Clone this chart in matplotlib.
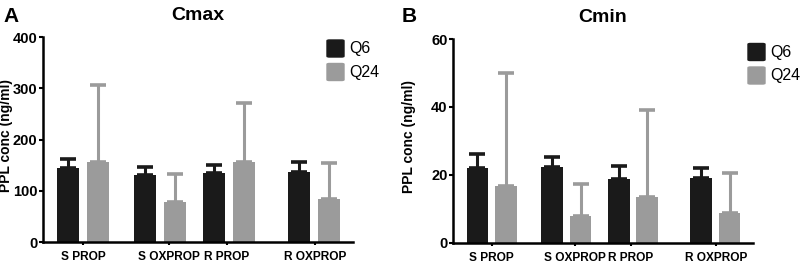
import matplotlib.pyplot as plt
from matplotlib.patches import FancyBboxPatch
import numpy as np

plt.rcParams["font.family"] = ["Liberation Sans", "DejaVu Sans"]

categories = ["S PROP", "S OXPROP", "R PROP", "R OXPROP"]
series = ["Q6", "Q24"]

cmax_q6 = [144, 131, 134, 137]
cmax_q6_err = [18, 15, 16, 19]
cmax_q24 = [156, 78, 156, 84]
cmax_q24_err = [150, 54, 116, 70]

cmin_q6 = [21.9, 22.4, 18.8, 19.1]
cmin_q6_err = [4.2, 2.9, 3.9, 2.8]
cmin_q24 = [16.7, 7.9, 13.4, 8.8]
cmin_q24_err = [33.3, 9.3, 25.7, 11.8]

BLACK = "#1a1a1a"
GRAY = "#9b9b9b"
W, H = 800.0, 264.0

# GraphPad-style uneven group spacing, in axis units (axis spans 0..310)
group_x = np.array([40.0, 117.0, 186.0, 271.0])
label_x = np.array([40.0, 126.0, 184.0, 272.0])
offset = 14.8
bar_w = 22.5


def draw_panel(ax, q6, q6_err, q24, q24_err, ymax, step, title, letter_px, legend_px, ylab_x):
    ax.bar(group_x - offset, q6, bar_w, color=BLACK, zorder=2)
    ax.bar(group_x + offset, q24, bar_w, color=GRAY, zorder=2)
    ax.errorbar(group_x - offset, q6, yerr=[np.zeros(4), q6_err], fmt="none",
                ecolor=BLACK, elinewidth=2.2, capsize=5.5, capthick=2.6, zorder=1)
    ax.errorbar(group_x + offset, q24, yerr=[np.zeros(4), q24_err], fmt="none",
                ecolor=GRAY, elinewidth=2.2, capsize=5.5, capthick=2.6, zorder=1)

    ax.set_xlim(0, 310)
    ax.set_ylim(0, ymax)
    ax.set_yticks(np.arange(0, ymax + 1, step))
    ax.set_xticks(label_x)
    ax.set_xticklabels(categories, fontsize=8.6, fontweight="bold")
    for lbl in ax.get_yticklabels():
        lbl.set_fontweight("bold")
    ax.tick_params(axis="y", labelsize=10.5, width=1.5, length=3, pad=1)
    ax.tick_params(axis="x", width=1.5, length=2.5, pad=4)
    for side in ("top", "right"):
        ax.spines[side].set_visible(False)
    for side in ("left", "bottom"):
        ax.spines[side].set_linewidth(1.8)
    ax.set_ylabel("PPL conc (ng/ml)", fontsize=10, fontweight="bold")
    ax.yaxis.set_label_coords(ylab_x, 0.52)
    ax.set_title(title, fontsize=14, fontweight="bold", pad=12)

    fig.text(letter_px[0] / W, 1 - letter_px[1] / H, letter_px[2],
             fontsize=15, fontweight="bold", va="top", ha="left")

    # legend with rounded squares
    lx, ly = legend_px
    for i, (name, col) in enumerate(zip(series, [BLACK, GRAY])):
        top = ly + i * 23.5
        box = FancyBboxPatch((lx / W, 1 - (top + 17) / H), 17 / W, 17 / H,
                             boxstyle="round,pad=0,rounding_size=0.003",
                             transform=fig.transFigure, color=col, clip_on=False)
        fig.add_artist(box)
        fig.text((lx + 22) / W, 1 - (top + 8.5) / H, name, fontsize=11.5,
                 va="center", ha="left")


fig = plt.figure(figsize=(8, 2.64), dpi=100)
ax_a = fig.add_axes([43 / W, 1 - 242 / H, 310 / W, 205 / H])
ax_b = fig.add_axes([453 / W, 1 - 242.7 / H, 300 / W, 203.7 / H])

draw_panel(ax_a, cmax_q6, cmax_q6_err, cmax_q24, cmax_q24_err, 400, 100, "Cmax",
           (3, 7, "A"), (327, 40), -0.098)
draw_panel(ax_b, cmin_q6, cmin_q6_err, cmin_q24, cmin_q24_err, 60, 20, "Cmin",
           (402, 7, "B"), (748, 43.5), -0.123)

fig.savefig("out.png", dpi=100)
